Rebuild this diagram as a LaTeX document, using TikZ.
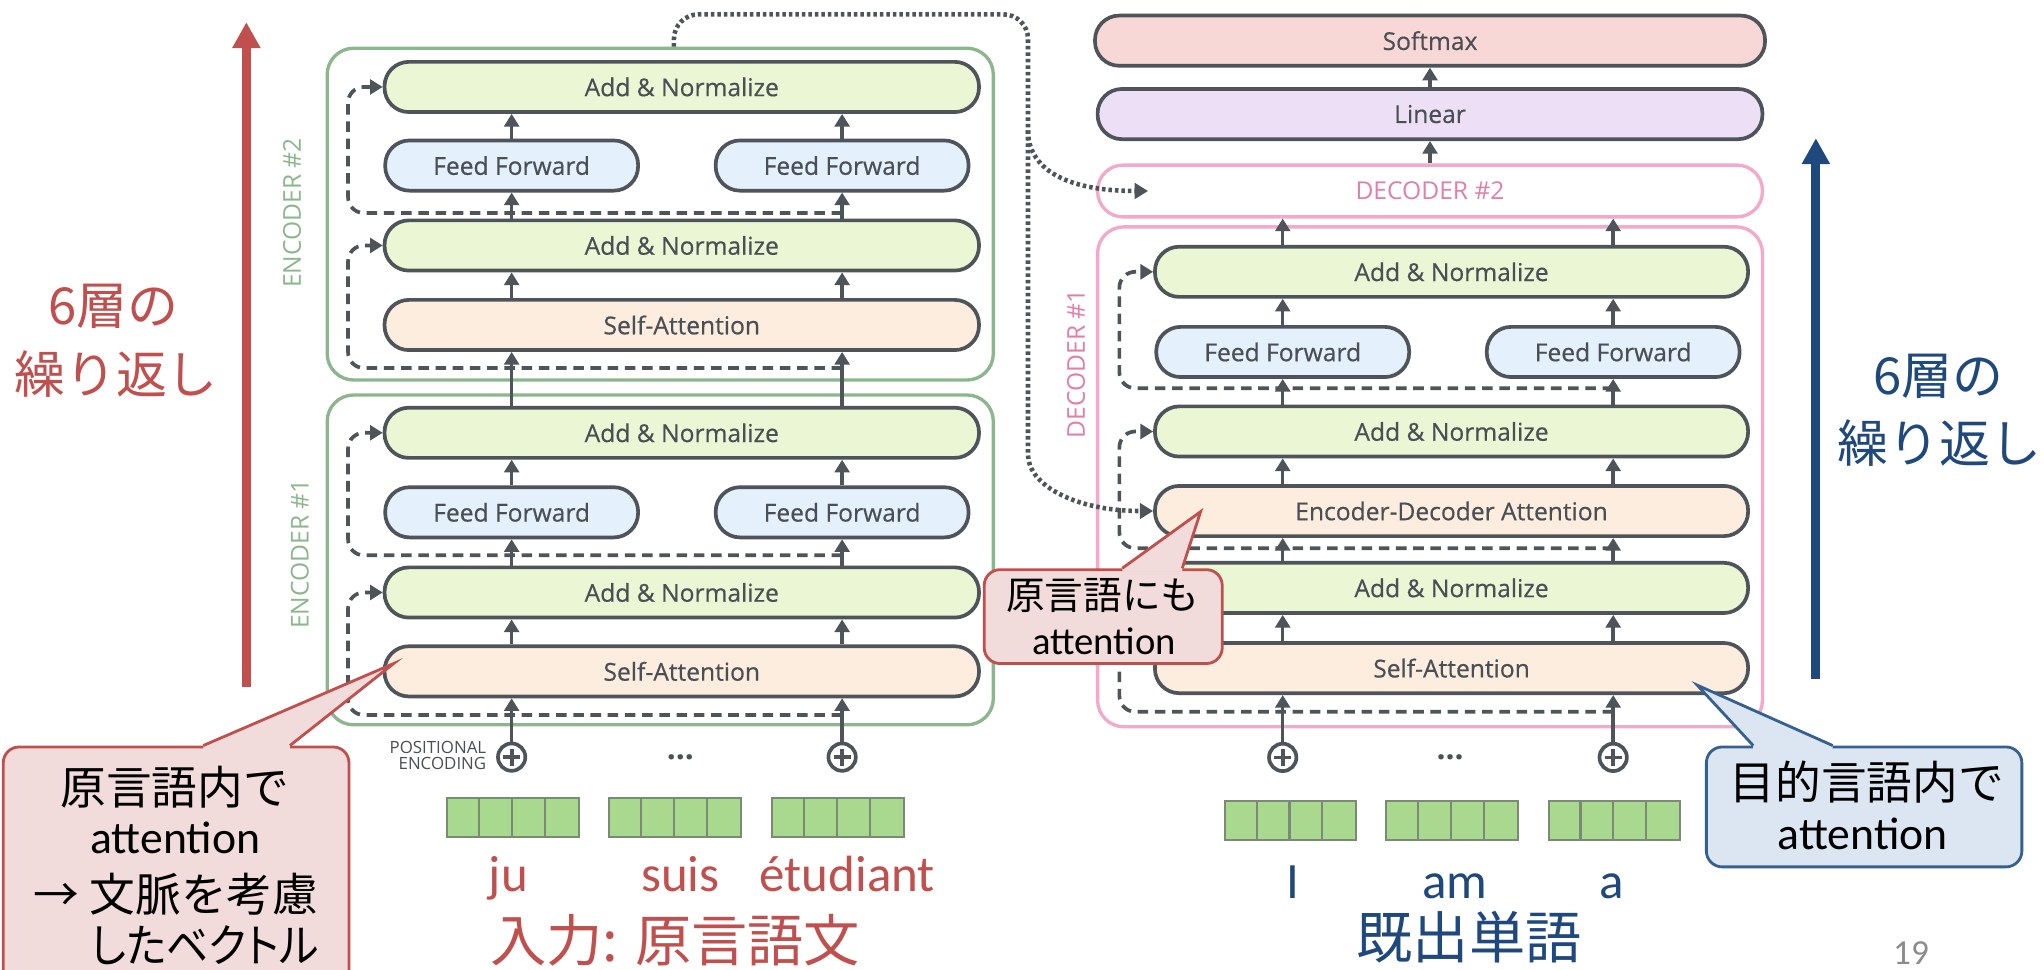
\documentclass[tikz,border=0pt]{standalone}
\usepackage{fontspec}
\usepackage{graphicx}
\setmainfont{Carlito}
\newfontfamily\jp{Noto Sans CJK JP}
\newfontfamily\jpp[RawFeature=+palt]{Noto Sans CJK JP}
\newfontfamily\os{Open Sans}
\newfontfamily\osb[FakeBold=0.5]{Open Sans}
\usetikzlibrary{arrows.meta,calc}
\def\uu{0.37093pt}
\definecolor{boxline}{HTML}{4E545A}
\definecolor{boxtext}{HTML}{4A4F55}
\definecolor{anfill}{HTML}{EBF7D4}
\definecolor{fffill}{HTML}{E4F0FC}
\definecolor{safill}{HTML}{FDEDDF}
\definecolor{softfill}{HTML}{F8D8D6}
\definecolor{linfill}{HTML}{EDDFF6}
\definecolor{encgreen}{HTML}{8CB68D}
\definecolor{decpink}{HTML}{F2A9CA}
\definecolor{decpinktext}{HTML}{E07FAB}
\definecolor{myred}{HTML}{C0504D}
\definecolor{myblue}{HTML}{1F497D}
\definecolor{calblue}{HTML}{35608F}
\definecolor{redfill}{HTML}{F2DCDB}
\definecolor{bluefill}{HTML}{DCE6F2}
\definecolor{vecfill}{HTML}{A8D98F}
\definecolor{vecline}{HTML}{7A8A74}
\definecolor{numgray}{HTML}{8C8C8C}
\tikzset{
  blk/.style={draw=boxline, line width=1.05pt, rounded corners=6.9pt, minimum height=38.5*\uu, inner sep=0pt, font=\osb\fontsize{7}{8}\selectfont, text=boxtext},
  anb/.style={blk, fill=anfill, minimum width=456*\uu},
  dan/.style={blk, fill=anfill, minimum width=455*\uu},
  ffb/.style={blk, fill=fffill, minimum width=194*\uu},
  sab/.style={blk, fill=safill, minimum width=456*\uu},
  dsab/.style={blk, fill=safill, minimum width=455*\uu},
  encbox/.style={draw=encgreen, line width=0.95pt, rounded corners=7.5pt, inner sep=0pt},
  decbox/.style={draw=decpink, line width=0.95pt, rounded corners=7.5pt, inner sep=0pt},
  flow/.style={draw=boxline, line width=1pt, -{Triangle[width=4.2pt,length=3.6pt]}},
  resid/.style={draw=boxline, line width=1.05pt, dash pattern=on 3pt off 1.9pt, rounded corners=4.5pt, -{Triangle[width=4.2pt,length=3.6pt]}},
  dotconn/.style={draw=boxline, line width=1.3pt, dash pattern=on 1pt off 0.85pt, -{Triangle[width=4.4pt,length=3.8pt]}},
  grouplbl/.style={font=\os\fontsize{7}{8}\selectfont, inner sep=0pt, rotate=90},
  pluscirc/.style={circle, draw=boxline, line width=1.05pt, minimum size=21*\uu, inner sep=0pt,
    path picture={\draw[boxline, line width=1.05pt]
      ([xshift=-2.4pt]path picture bounding box.center) -- ([xshift=2.4pt]path picture bounding box.center)
      ([yshift=-2.4pt]path picture bounding box.center) -- ([yshift=2.4pt]path picture bounding box.center);}},
  vecbox/.style={draw=vecline, fill=vecfill, line width=0.6pt, minimum width=101*\uu, minimum height=30*\uu, inner sep=0pt},
  cell/.style={draw=vecline, line width=0.6pt},
  bigR/.style={draw=myred, line width=2.6pt, -{Triangle[width=7.6pt,length=7.4pt]}},
  bigB/.style={draw=myblue, line width=2.6pt, -{Triangle[width=7.6pt,length=7.4pt]}},
  calR/.style={draw=myred, fill=redfill, line width=0.8pt, rounded corners=4.5pt, inner sep=0pt},
  calB/.style={draw=calblue, fill=bluefill, line width=0.8pt, rounded corners=4.5pt, inner sep=0pt},
  wordR/.style={text=myred, font=\fontsize{14.5}{16}\selectfont, inner sep=0pt},
  wordB/.style={text=myblue, font=\fontsize{14.5}{16}\selectfont, inner sep=0pt},
  bigjp/.style={font=\jp\fontsize{14.5}{16}\selectfont, inner sep=0pt},
  titlejp/.style={font=\jp\fontsize{16}{18}\selectfont, inner sep=0pt},
}
\newcommand{\wvec}[3]{%
  \node[vecbox] (#1) at (#2,#3) {};
  \foreach \k in {1,2,3} {\draw[cell] ($(#1.north west)+(\k*25.25,0)$) -- ($(#1.south west)+(\k*25.25,0)$);}
}
\begin{document}
\begin{tikzpicture}[x=\uu, y=-\uu]
\useasboundingbox (0,0) rectangle (1568,744);
\clip (0,0) rectangle (1568,744);
\fill[white] (0,0) rectangle (1568,744);

% ---------- outer groups ----------
\node[encbox, minimum width=511*\uu, minimum height=254.5*\uu] (enc2) at (506.5,164.25) {};
\node[encbox, minimum width=511*\uu, minimum height=253*\uu] (enc1) at (506.5,429.5) {};
\node[decbox, minimum width=510*\uu, minimum height=383.5*\uu] (dec1) at (1097,365.75) {};
\node[blk, draw=decpink, line width=0.95pt, fill=white, text=decpinktext, font=\os\fontsize{7}{8}\selectfont, minimum width=510*\uu, minimum height=39.7*\uu, rounded corners=7.2pt] (dec2) at (1097,146.5) {DECODER \#2};

\node[grouplbl, text=encgreen] (enc2lbl) at (224,163.5) {ENCODER \#2};
\node[grouplbl, text=encgreen] (enc1lbl) at (230,425) {ENCODER \#1};
\node[grouplbl, text=decpinktext] (dec1lbl) at (825.5,279) {DECODER \#1};

% ---------- column coordinates ----------
\coordinate (ecL) at (392.5,0);
\coordinate (ecR) at (646,0);
\coordinate (dcL) at (984,0);
\coordinate (dcR) at (1237.5,0);
\coordinate (resE) at (267,0);
\coordinate (resD) at (858.7,0);

% ---------- encoder 2 ----------
\node[anb] (e2an2) at (523,66.7) {Add \& Normalize};
\node[ffb] (e2ffL) at (392.5,127) {Feed Forward};
\node[ffb] (e2ffR) at (646,127) {Feed Forward};
\node[anb] (e2an1) at (523,188.3) {Add \& Normalize};
\node[sab] (e2sa) at (523,249.3) {Self-Attention};

% ---------- encoder 1 ----------
\node[anb] (e1an2) at (523,332) {Add \& Normalize};
\node[ffb] (e1ffL) at (392.5,393) {Feed Forward};
\node[ffb] (e1ffR) at (646,393) {Feed Forward};
\node[anb] (e1an1) at (523,454.5) {Add \& Normalize};
\node[sab] (e1sa) at (523,515) {Self-Attention};

% ---------- decoder ----------
\node[blk, fill=softfill, minimum width=514*\uu] (soft) at (1097,31.2) {Softmax};
\node[blk, fill=linfill, minimum width=510*\uu] (lin) at (1097,87.5) {Linear};
\node[dan] (dan3) at (1113.5,208.5) {Add \& Normalize};
\node[ffb] (dffL) at (984,270) {Feed Forward};
\node[ffb] (dffR) at (1237.5,270) {Feed Forward};
\node[dan] (dan2) at (1113.5,331) {Add \& Normalize};
\node[dsab] (eda) at (1113.5,392) {Encoder-Decoder Attention};
\node[dan] (dan1) at (1113.5,451) {Add \& Normalize};
\node[dsab] (dsa) at (1113.5,512.5) {Self-Attention};

% ---------- plus circles, dots, positional encoding ----------
\node[pluscirc] (ep1) at (392.5,580.8) {};
\node[pluscirc] (ep2) at (646,580.8) {};
\node[pluscirc] (dp1) at (984,581) {};
\node[pluscirc] (dp2) at (1237.5,581) {};
\node[font=\os\bfseries\fontsize{9}{9}\selectfont, text=boxtext, inner sep=0pt, anchor=base] (edots) at (522,583) {...};
\node[font=\os\bfseries\fontsize{9}{9}\selectfont, text=boxtext, inner sep=0pt, anchor=base] (ddots) at (1112.5,583) {...};
\node[font=\os\fontsize{4.8}{4.7}\selectfont, text=boxtext, align=right, anchor=east, inner sep=0pt] (posenc) at (373.5,579.5) {POSITIONAL\\ENCODING};

% ---------- word vectors ----------
\wvec{ev1}{393.5}{627}
\wvec{ev2}{518}{627}
\wvec{ev3}{642.75}{627}
\wvec{dv1}{990}{629.5}
\wvec{dv2}{1114}{629.5}
\wvec{dv3}{1238.5}{629.5}

% ---------- flow arrows: encoders ----------
\draw[flow] (ep1.north) -- (e1sa.south -| ep1);
\draw[flow] (ep2.north) -- (e1sa.south -| ep2);
\foreach \c in {ecL,ecR} {
  \draw[flow] (e1sa.north -| \c) -- (e1an1.south -| \c);
  \draw[flow] (e1an2.north -| \c) -- (e2sa.south -| \c);
  \draw[flow] (e2sa.north -| \c) -- (e2an1.south -| \c);
}
\draw[flow] (e1an1.north -| e1ffL) -- (e1ffL.south);
\draw[flow] (e1an1.north -| e1ffR) -- (e1ffR.south);
\draw[flow] (e1ffL.north) -- (e1an2.south -| e1ffL);
\draw[flow] (e1ffR.north) -- (e1an2.south -| e1ffR);
\draw[flow] (e2an1.north -| e2ffL) -- (e2ffL.south);
\draw[flow] (e2an1.north -| e2ffR) -- (e2ffR.south);
\draw[flow] (e2ffL.north) -- (e2an2.south -| e2ffL);
\draw[flow] (e2ffR.north) -- (e2an2.south -| e2ffR);

% ---------- flow arrows: decoder ----------
\draw[flow] (dp1.north) -- (dsa.south -| dp1);
\draw[flow] (dp2.north) -- (dsa.south -| dp2);
\foreach \c in {dcL,dcR} {
  \draw[flow] (dsa.north -| \c) -- (dan1.south -| \c);
  \draw[flow] (dan1.north -| \c) -- (eda.south -| \c);
  \draw[flow] (eda.north -| \c) -- (dan2.south -| \c);
  \draw[flow] (dan3.north -| \c) -- (dec2.south -| \c);
}
\draw[flow] (dan2.north -| dffL) -- (dffL.south);
\draw[flow] (dan2.north -| dffR) -- (dffR.south);
\draw[flow] (dffL.north) -- (dan3.south -| dffL);
\draw[flow] (dffR.north) -- (dan3.south -| dffR);
\draw[flow] (dec2.north) -- (lin.south);
\draw[flow] (lin.north) -- (soft.south);

% ---------- residual (dashed) connections ----------
\coordinate (rs1) at (646,163.4);
\coordinate (rs2) at (646,282.3);
\coordinate (rs3) at (646,426);
\coordinate (rs4) at (646,548.5);
\coordinate (rs5) at (1237.5,297.8);
\coordinate (rs6) at (1237.5,420.5);
\coordinate (rs7) at (1237.5,546);
\draw[resid] (rs1) -- (rs1 -| resE) -- (e2an2.west -| resE) -- (e2an2.west);
\draw[resid] (rs2) -- (rs2 -| resE) -- (e2an1.west -| resE) -- (e2an1.west);
\draw[resid] (rs3) -- (rs3 -| resE) -- (e1an2.west -| resE) -- (e1an2.west);
\draw[resid] (rs4) -- (rs4 -| resE) -- (e1an1.west -| resE) -- (e1an1.west);
\draw[resid] (rs5) -- (rs5 -| resD) -- (dan3.west -| resD) -- (dan3.west);
\draw[resid] (rs6) -- (rs6 -| resD) -- (dan2.west -| resD) -- (dan2.west);
\draw[resid] (rs7) -- (rs7 -| resD) -- (dan1.west -| resD) -- (dan1.west);

% ---------- encoder output to decoder (dotted) ----------
\coordinate (dsx) at (517,0);
\coordinate (dtl) at (517,11);
\coordinate (dtr) at (788.6,11);
\coordinate (dbr) at (788.6,100);
\coordinate (dlow) at (788.6,330);
\coordinate (d2tip) at ($(dec2.west)+(40,0)$);
\draw[dotconn, rounded corners=7pt] (enc2.north -| dsx) -- (dtl) -- (dtr) -- (dlow)
   .. controls (788.6,372) and (825,392) .. (eda.west);
\draw[dotconn] (dbr) .. controls (788.6,128) and (815,146.5) .. (d2tip);

% ---------- big arrows and repeat labels ----------
\coordinate (rA) at (189,527);
\coordinate (rB) at (189,17);
\draw[bigR] (rA) -- (rB);
\coordinate (bA) at (1393,520.5);
\coordinate (bB) at (1393,106);
\draw[bigB] (bA) -- (bB);
\node[bigjp, text=myred] (rl1) at (87,235) {6層の};
\node[bigjp, text=myred] (rl2) at (89,287) {繰り返し};
\node[bigjp, text=myblue] (bl1) at (1487,289) {6層の};
\node[bigjp, text=myblue] (bl2) at (1488,340) {繰り返し};

% ---------- words and titles ----------
\node[wordR, anchor=base] (wju) at (390,684) {ju};
\node[wordR, anchor=base] (wsuis) at (522,684) {suis};
\node[wordR, anchor=base] (wetu) at (650,684) {étudiant};
\node[titlejp, text=myred] (tin) at (518,721) {入力: 原言語文};
\node[wordB, anchor=base] (wI) at (992,689) {I};
\node[wordB, anchor=base] (wam) at (1116,689) {am};
\node[wordB, anchor=base] (wa) at (1236,689) {a};
\node[titlejp, text=myblue] (tout) at (1127,719) {既出単語};
\node[text=numgray, font=\fontsize{10}{12}\selectfont, anchor=base, inner sep=0pt] (pnum) at (1466,740) {19};

% ---------- callouts ----------
% callout 1 (red, left)
\node[calR, minimum width=265.2*\uu, minimum height=207*\uu] (cal1) at (135.1,676.5) {};
\coordinate (tip1) at (302,509);
\fill[redfill] ($(cal1.north west)+(154.5,0)$) -- (tip1) -- ($(cal1.north west)+(221,0)$) -- ($(cal1.north west)+(221,2.6)$) -- ($(cal1.north west)+(154.5,2.6)$) -- cycle;
\draw[myred, line width=0.8pt] ($(cal1.north west)+(154.5,0)$) -- (tip1) -- ($(cal1.north west)+(221,0)$);
\node[font=\jp\fontsize{13}{15}\selectfont, inner sep=0pt] (c1l1) at (134,604) {原言語内で};
\node[font=\fontsize{13}{15}\selectfont, inner sep=0pt, anchor=base] (c1l2) at (134.5,655) {attention};
\node[font=\jp\fontsize{13}{15}\selectfont, inner sep=0pt] (c1l3) at (135,686) {→ 文脈を考慮};
\node[font=\jpp\fontsize{13}{15}\selectfont, inner sep=0pt, anchor=west] (c1l4) at (69,725) {\scalebox{0.92}[1]{したベクトル}};

% callout 2 (red, middle)
\node[calR, minimum width=182.6*\uu, minimum height=72*\uu] (cal2) at (846.3,473) {};
\coordinate (tip2) at (921,392.5);
\fill[redfill] ($(cal2.north west)+(107,0)$) -- (tip2) -- ($(cal2.north west)+(153,0)$) -- ($(cal2.north west)+(153,2.6)$) -- ($(cal2.north west)+(107,2.6)$) -- cycle;
\draw[myred, line width=0.8pt] ($(cal2.north west)+(107,0)$) -- (tip2) -- ($(cal2.north west)+(153,0)$);
\node[font=\jp\fontsize{11}{13}\selectfont, inner sep=0pt] (c2l1) at (846,457) {原言語にも};
\node[font=\fontsize{11}{13}\selectfont, inner sep=0pt, anchor=base] (c2l2) at (847,502) {attention};

% callout 3 (blue, right)
\node[calB, minimum width=242*\uu, minimum height=92*\uu] (cal3) at (1430,619) {};
\coordinate (tip3) at (1302,525.6);
\fill[bluefill] ($(cal3.north west)+(37,0)$) -- (tip3) -- ($(cal3.north west)+(98,0)$) -- ($(cal3.north west)+(98,2.6)$) -- ($(cal3.north west)+(37,2.6)$) -- cycle;
\draw[calblue, line width=0.8pt] ($(cal3.north west)+(37,0)$) -- (tip3) -- ($(cal3.north west)+(98,0)$);
\node[font=\jp\fontsize{13}{15}\selectfont, inner sep=0pt] (c3l1) at (1432,600) {目的言語内で};
\node[font=\fontsize{13}{15}\selectfont, inner sep=0pt, anchor=base] (c3l2) at (1429,652) {attention};
\end{tikzpicture}
\end{document}
